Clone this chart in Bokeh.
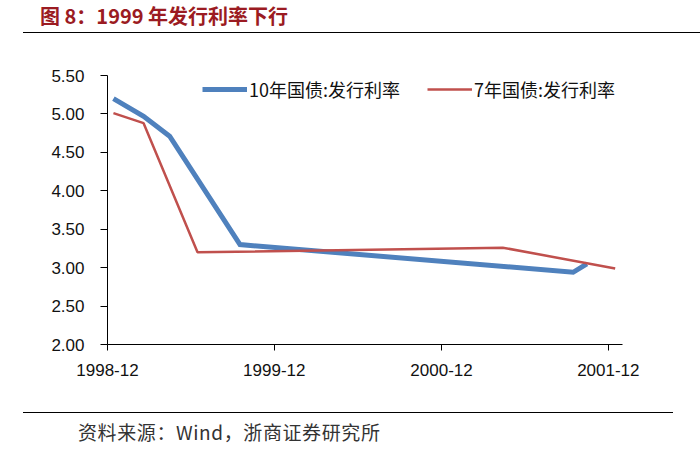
import pandas as pd
from datetime import datetime
from bokeh.plotting import figure
from bokeh.layouts import column
from bokeh.models import (Range1d, FixedTicker, Legend, LegendItem, Div,
                          PrintfTickFormatter)
from bokeh.embed import file_html
from bokeh.resources import INLINE

# ---- data ----
title_text = "图 8：1999 年发行利率下行"
source_text = "资料来源：Wind，浙商证券研究所"

name_10y = "10年国债:发行利率"
dates_10y = ["1998-12-14", "1999-02-18", "1999-04-16", "1999-09-17", "2001-09-15", "2001-10-15"]
rate_10y = [5.20, 4.97, 4.71, 3.30, 2.94, 3.05]

name_7y = "7年国债:发行利率"
dates_7y = ["1998-12-14", "1999-02-18", "1999-06-16", "2001-04-14", "2001-12-16"]
rate_7y = [5.01, 4.88, 3.20, 3.26, 2.99]

x_tick_dates = ["1998-12-01", "1999-12-01", "2000-12-01", "2001-12-01"]
x_tick_labels = ["1998-12", "1999-12", "2000-12", "2001-12"]
y_ticks = [2.0, 2.5, 3.0, 3.5, 4.0, 4.5, 5.0, 5.5]

BLUE = "#4F81BD"
RED = "#C0504D"
W = 700

# ---- title strip ----
top_html = (
    '<div style="position:relative;width:700px;height:50px;margin:0;padding:0;">'
    '<div style="position:absolute;left:40px;top:4px;white-space:nowrap;'
    "font-family:'Noto Sans CJK SC';font-weight:bold;font-size:20px;"
    'line-height:24px;color:#9B1B22;">' + title_text + '</div>'
    '<div style="position:absolute;left:23px;top:32px;width:677px;height:0;'
    'border-top:1.4px solid #000;"></div>'
    '</div>'
)
top = Div(text=top_html, width=W, height=50, margin=0)

# ---- main chart ----
p = figure(width=W, height=345, x_axis_type="datetime",
           x_range=Range1d(datetime(1998, 12, 1), datetime(2002, 1, 1)),
           y_range=Range1d(2.0, 5.5),
           output_backend="svg", toolbar_location=None,
           min_border_left=107, min_border_right=78,
           min_border_top=25, min_border_bottom=51)
p.outline_line_color = None
p.xgrid.visible = False
p.ygrid.visible = False

x10 = pd.to_datetime(dates_10y)
x7 = pd.to_datetime(dates_7y)
r10 = p.line(x10, rate_10y, line_color=BLUE, line_width=5, line_join="miter")
r7 = p.line(x7, rate_7y, line_color=RED, line_width=2.5)

tick_ms = [pd.Timestamp(d).value / 1e6 for d in x_tick_dates]
xa = p.xaxis[0]
xa.ticker = FixedTicker(ticks=tick_ms)
xa.major_label_overrides = {t: l for t, l in zip(tick_ms, x_tick_labels)}
xa.minor_tick_line_color = None
xa.major_tick_out = 6
xa.major_tick_in = 0
xa.major_label_standoff = 13
xa.axis_line_color = "black"
xa.major_tick_line_color = "black"
xa.major_label_text_font = "Liberation Sans"
xa.major_label_text_font_size = "17px"
xa.major_label_text_color = "#111111"

ya = p.yaxis[0]
ya.ticker = FixedTicker(ticks=y_ticks)
ya.formatter = PrintfTickFormatter(format="%.2f")
ya.minor_tick_line_color = None
ya.major_tick_out = 7
ya.major_tick_in = 0
ya.major_label_standoff = 16
ya.axis_line_color = "black"
ya.major_tick_line_color = "black"
ya.major_label_text_font = "Liberation Sans"
ya.major_label_text_font_size = "17px"
ya.major_label_text_color = "#111111"

legend = Legend(items=[LegendItem(label=name_10y, renderers=[r10]),
                       LegendItem(label=name_7y, renderers=[r7])],
                orientation="horizontal", location=(95, 242),
                glyph_width=45, glyph_height=18, label_height=18,
                label_standoff=2, spacing=27, padding=0, margin=0,
                border_line_color=None, background_fill_alpha=0,
                label_text_font="Noto Sans CJK SC", label_text_font_size="18px",
                label_text_color="#111111")
p.add_layout(legend, "center")

# ---- source strip ----
bot_html = (
    '<div style="position:relative;width:700px;height:55px;margin:0;padding:0;">'
    '<div style="position:absolute;left:23px;top:17px;width:650px;height:0;'
    'border-top:1.4px solid #000;"></div>'
    '<div style="position:absolute;left:78px;top:25px;white-space:nowrap;'
    "font-family:'Noto Sans CJK SC';font-size:19px;line-height:24px;"
    'letter-spacing:0.6px;color:#333333;">' + source_text + '</div>'
    '</div>'
)
bot = Div(text=bot_html, width=W, height=55, margin=0)

layout = column(top, p, bot, spacing=0)
open("out.html", "w").write(file_html(layout, INLINE))
